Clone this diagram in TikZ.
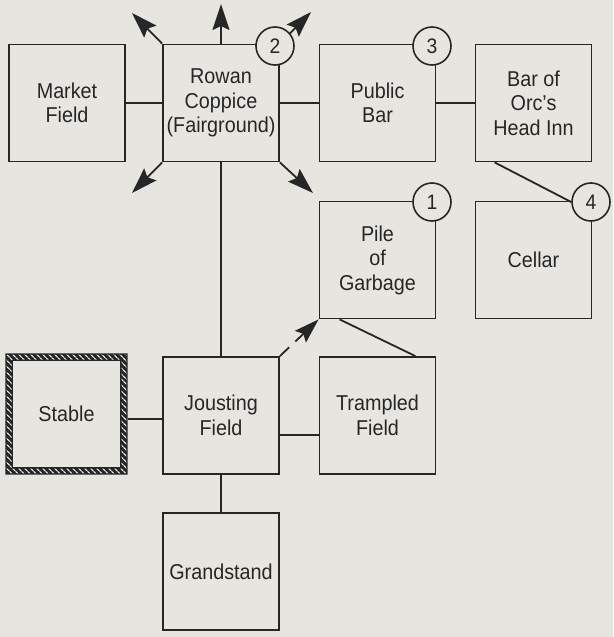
\documentclass[tikz,border=0pt]{standalone}
\usepackage{fontspec}
\setmainfont[FakeStretch=0.92]{Liberation Sans}
\usetikzlibrary{arrows.meta,calc,patterns.meta}
\definecolor{paper}{HTML}{E7E5E0}
\definecolor{ink}{HTML}{262626}
\begin{document}
\begin{tikzpicture}[x=1pt,y=-1pt,
  room/.style={draw=ink,line width=1.8pt,fill=paper,minimum width=116pt,minimum height=117pt,
    align=center,inner sep=0pt,font=\fontsize{21.5}{24.5}\selectfont,text=ink},
  marker/.style={draw=ink,line width=1.6pt,fill=paper,circle,minimum size=38pt,inner sep=0pt,
    font=\fontsize{21}{24}\selectfont,text=ink},
  link/.style={draw=ink,line width=1.8pt},
  exit/.style={draw=ink,line width=1.8pt,-{Stealth[length=26pt,width=17pt,inset=4pt]}}]
\fill[paper] (0,0) rectangle (613,637);
\useasboundingbox (0,0) rectangle (613,637);
% rooms
\node[room] (market) at (67,103) {Market\\Field};
\node[room] (rowan) at (221,103) {Rowan\\Coppice\\(Fairground)};
\node[room] (public) at (377.5,103) {Public\\Bar};
\node[room] (orc) at (533.5,103) {Bar of\\Orc's\\Head Inn};
\node[room] (pile) at (377.5,260) {Pile\\of\\Garbage};
\node[room] (cellar) at (533.5,260) {Cellar};
\node[room,minimum width=113pt,minimum height=112pt,draw=none] (stable) at (66.5,414) {Stable};
\node[room] (jousting) at (221,415.5) {Jousting\\Field};
\node[room] (trampled) at (377.5,415.5) {Trampled\\Field};
\node[room] (grandstand) at (221,571.5) {Grandstand};
% stable hatched (rope) border
\fill[ink,even odd rule] ([shift={(-3.8pt,3.8pt)}]stable.north west) rectangle ([shift={(3.8pt,-3.8pt)}]stable.south east)
  ([shift={(3.8pt,-3.8pt)}]stable.north west) rectangle ([shift={(-3.8pt,3.8pt)}]stable.south east);
\fill[even odd rule,pattern={Lines[angle=-45,distance=4pt,line width=1.3pt]},pattern color=paper!70!white]
  ([shift={(-2.4pt,2.4pt)}]stable.north west) rectangle ([shift={(2.4pt,-2.4pt)}]stable.south east)
  ([shift={(2.4pt,-2.4pt)}]stable.north west) rectangle ([shift={(-2.4pt,2.4pt)}]stable.south east);
% connectors
\draw[link] (market.east) -- (rowan.west);
\draw[link] (rowan.east) -- (public.west);
\draw[link] (public.east) -- (orc.west);
\draw[link] (rowan.south) -- (jousting.north);
\draw[link] (jousting.south) -- (grandstand.north);
\draw[link] ([shift={(3.8pt,-5pt)}]stable.east) -- ([yshift=-3.5pt]jousting.west);
\draw[link] ([yshift=-19.5pt]jousting.east) -- ([yshift=-19.5pt]trampled.west);
\draw[link] ([xshift=21pt]pile.south west) -- ([xshift=-21pt]trampled.north east);
% exits from Rowan Coppice
\coordinate (eN) at (221,4);
\coordinate (eNW) at (132,13);
\coordinate (eNE) at (311,12);
\coordinate (eSE) at (313,193);
\coordinate (eSW) at (132,193);
\draw[exit] (rowan.north) -- (eN);
\draw[exit] (rowan.north west) -- (eNW);
\draw[exit] (rowan.north east) -- (eNE);
\draw[exit] (rowan.south east) -- (eSE);
\draw[exit] (rowan.south west) -- (eSW);
% one-way arrow jousting -> pile
\draw[link] (jousting.north east) -- ($(jousting.north east)!0.24!(pile.south west)$);
\draw[exit,-{Stealth[length=25pt,width=16pt,inset=4pt]}] ($(jousting.north east)!0.40!(pile.south west)$) -- (pile.south west);
% markers
\node[marker] (m2) at (275,46) {2};
\node[marker] (m3) at (432,46) {3};
\node[marker] (m1) at (432,202) {1};
\node[marker] (m4) at (591,202) {4};
\draw[link] ([xshift=20pt]orc.south west) -- (m4.west);
\end{tikzpicture}
\end{document}
